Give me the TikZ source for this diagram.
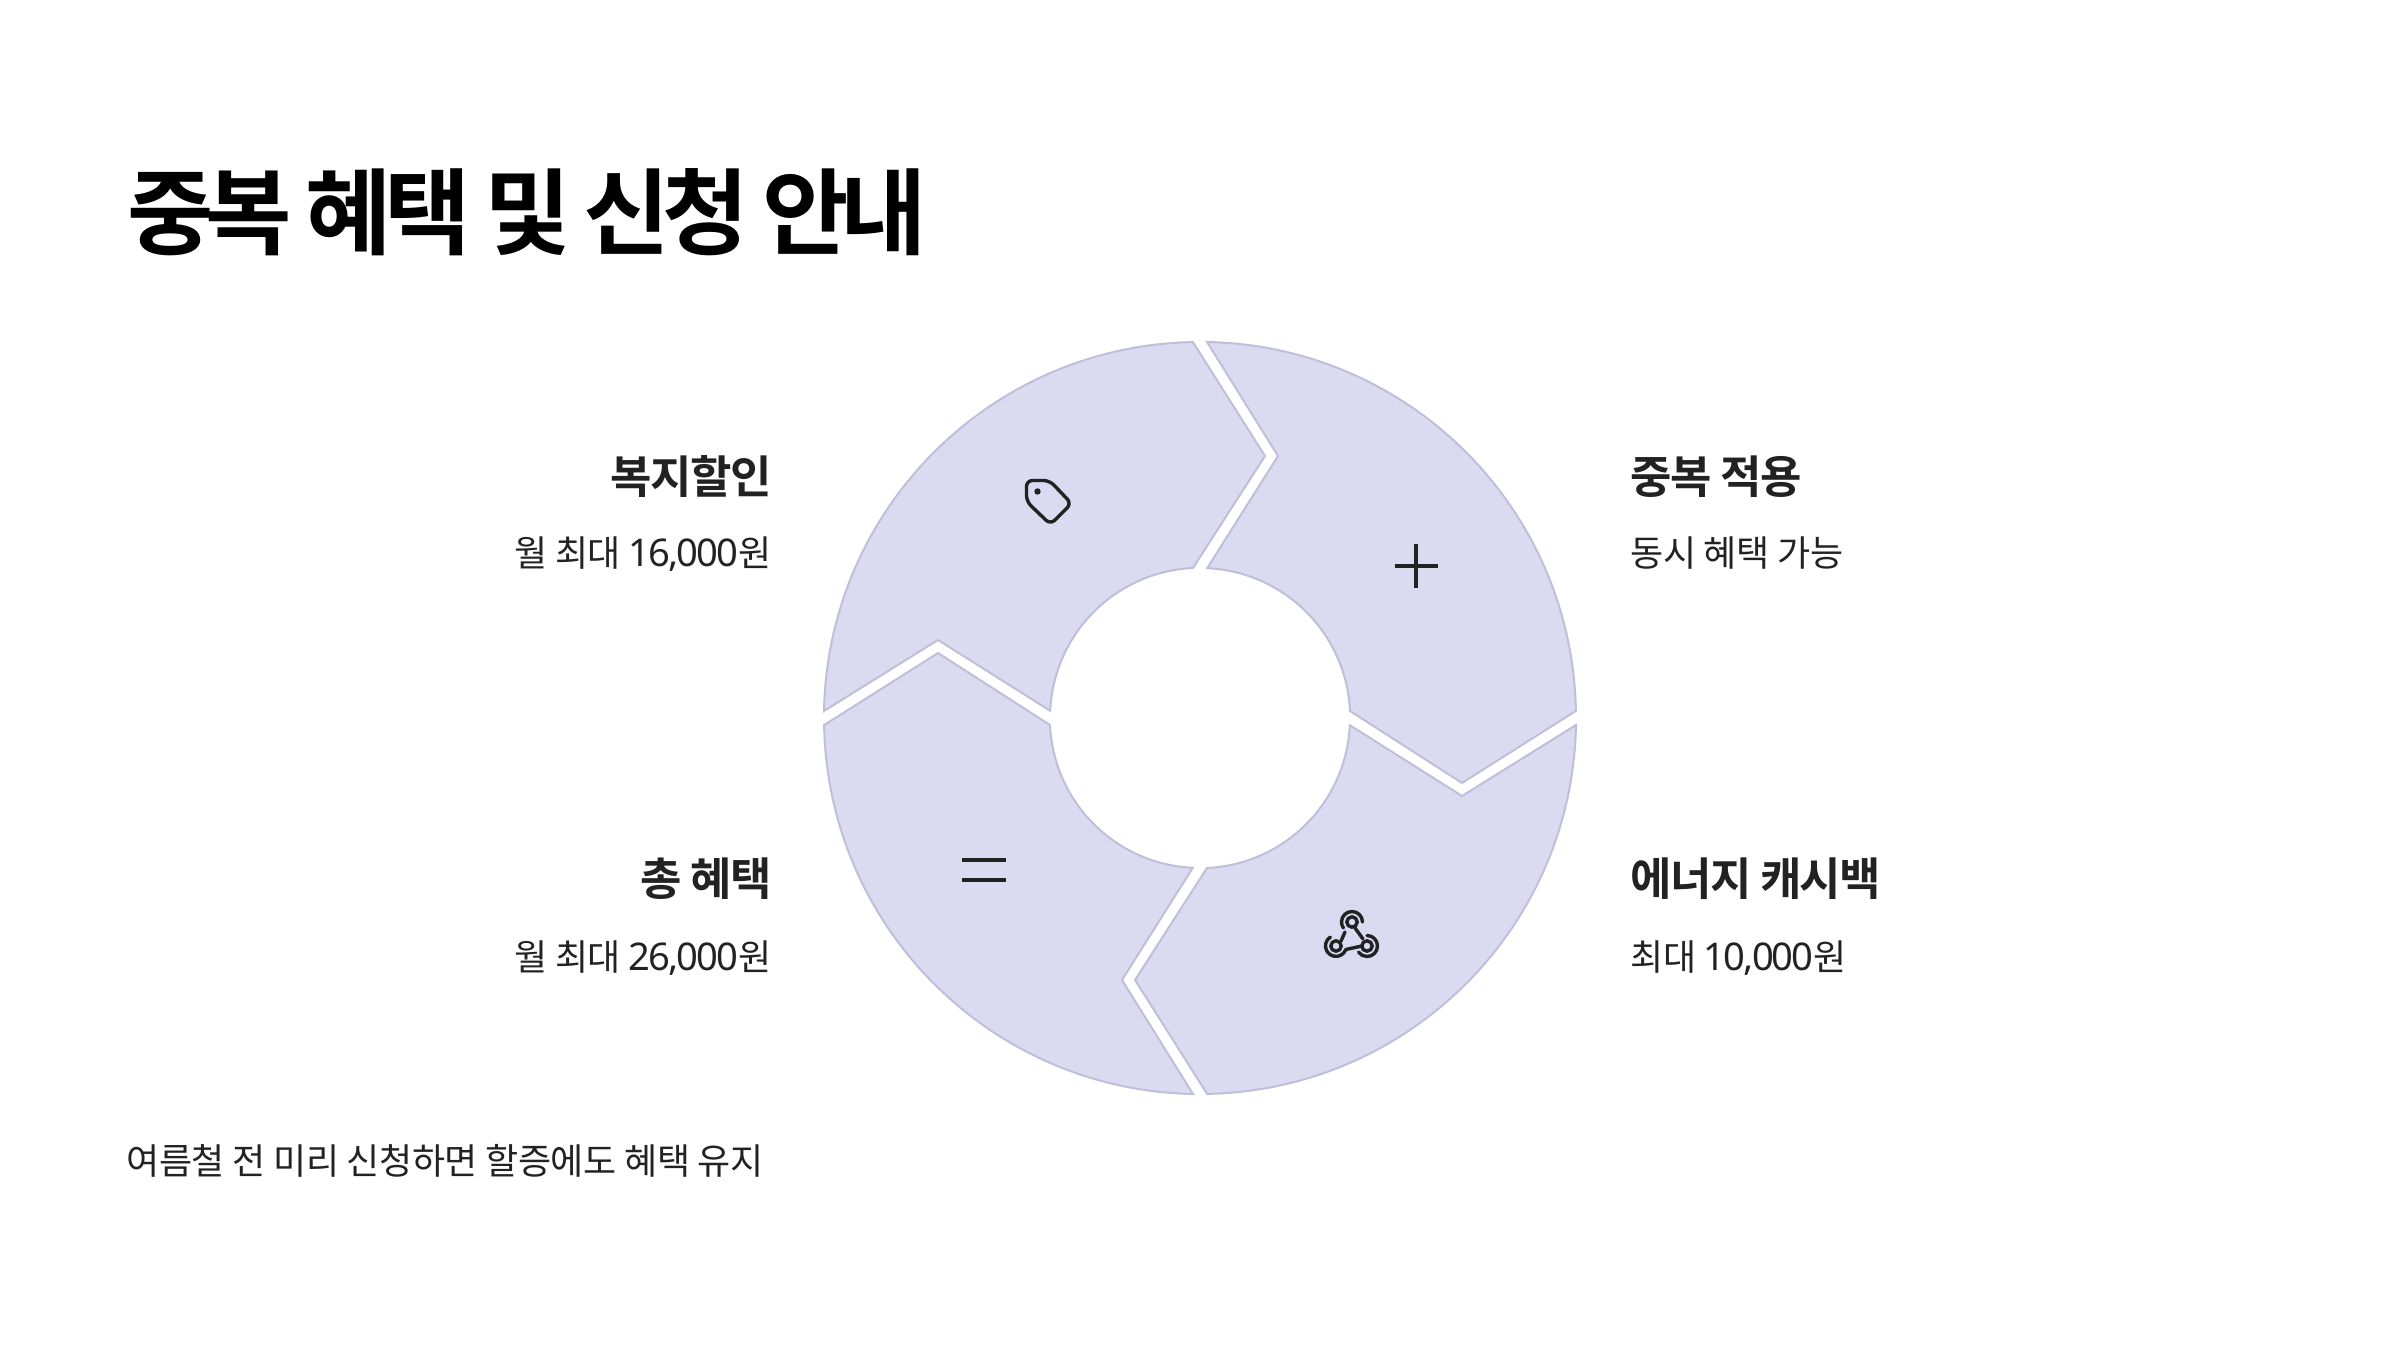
\documentclass[tikz,border=0pt]{standalone}
\usepackage{fontspec}
\setmainfont{Noto Sans CJK KR}[BoldFont={Noto Sans CJK KR Bold}]
\newfontfamily\titlef{Noto Sans CJK KR Bold}[LetterSpace=-8.5]
\newfontfamily\headf{Noto Sans CJK KR Bold}[LetterSpace=-3.5]
\newfontfamily\bodyf{Noto Sans CJK KR}[LetterSpace=-1.2]
\newfontfamily\digf{Noto Sans}[Scale=1.06,LetterSpace=-5]
\definecolor{segfill}{HTML}{DADAF0}
\definecolor{segline}{HTML}{BFBFDA}
\definecolor{ink}{HTML}{222222}
\tikzset{
  seg/.style={fill=segfill,draw=segline,line width=1pt,line join=miter},
  ico/.style={draw=ink,line width=1.7pt,line cap=round,line join=round},
  titletext/.style={anchor=base west,inner sep=0pt,font=\titlef\fontsize{47}{57}\selectfont,text=black},
  headtext/.style={inner sep=0pt,font=\headf\fontsize{22.5}{27}\selectfont,text=ink},
  bodytext/.style={inner sep=0pt,font=\bodyf\fontsize{18}{22}\selectfont,text=ink},
}
\begin{document}
\begin{tikzpicture}[x=0.5pt,y=0.5pt]
\useasboundingbox (0,0) rectangle (2400,1350);
\foreach \r in {0,-90,-180,-270}{
  \draw[seg,shift={(1200,632)},rotate=\r]
    (-376,7) arc[start angle=178.93,end angle=91.07,radius=188pt]
    -- (65,262) -- (-7,150)
    arc[start angle=92.68,end angle=177.32,radius=75pt]
    -- (-262,78) -- cycle;
}
\node[titletext] (title) at (127,1102) {중복 혜택 및 신청 안내};
\node[headtext,anchor=base east] (h1) at (772,856) {복지할인};
\node[bodytext,anchor=base east] (b1) at (772,783) {월 최대 {\digf 16,000}원};
\node[headtext,anchor=base east] (h2) at (772,454) {총 혜택};
\node[bodytext,anchor=base east] (b2) at (772,379) {월 최대 {\digf 26,000}원};
\node[headtext,anchor=base west] (h3) at (1630,856) {중복 적용};
\node[bodytext,anchor=base west] (b3) at (1630,783) {동시 혜택 가능};
\node[headtext,anchor=base west] (h4) at (1630,454) {에너지 캐시백};
\node[bodytext,anchor=base west] (b4) at (1630,379) {최대 {\digf 10,000}원};
\node[bodytext,anchor=base west] (foot) at (126,175) {여름철 전 미리 신청하면 할증에도 혜택 유지};
% plus
\draw[ico,line cap=butt] (1394.5,784) -- (1438,784) (1416,806) -- (1416,762);
% equals
\draw[ico,line cap=butt] (962,490) -- (1006,490) (962,470) -- (1006,470);
% tag
\draw[ico,rounded corners=3pt] (1026.5,869.5) -- (1049.5,869.5) -- (1071.5,846.5) -- (1050.5,825.5) -- (1026.5,848.5) -- cycle;
\fill[ink] (1037.5,858.5) circle[radius=1.6pt];
% graph
\draw[ico] (1352,428) circle[radius=2.6pt] (1336,404) circle[radius=2.6pt] (1367,404) circle[radius=2.6pt];
\draw[ico] (1362.5,428) arc[start angle=0,end angle=215,radius=5.25pt];
\draw[ico] (1367,414.5) arc[start angle=90,end angle=-144,radius=5.25pt];
\draw[ico] (1330.4,413) arc[start angle=122,end angle=340,radius=5.25pt] -- (1362,404);
\draw[ico] (1345,418) -- (1341,409) (1355,422) -- (1363,411);
\end{tikzpicture}
\end{document}
